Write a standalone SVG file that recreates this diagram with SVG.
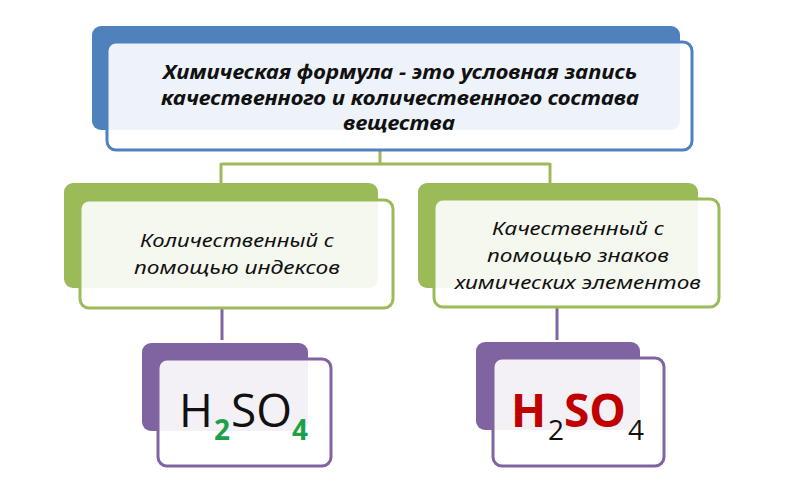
<svg xmlns="http://www.w3.org/2000/svg" width="802" height="491" viewBox="0 0 802 491">
<style>
.bg{fill:#fff}
.blue{fill:#4f81bd}
.green{fill:#9bbb59}
.purple{fill:#8064a2}
.front{fill:#fff;fill-opacity:0.9;stroke-width:3}
.fb{stroke:#4f81bd}
.fg{stroke:#9bbb59}
.fp{stroke:#8064a2}
.t{font-family:"Noto Sans","Liberation Sans",sans-serif;font-style:italic;fill:#111;text-anchor:middle}
.tb{font-weight:bold;font-size:19px}
.tn{font-size:19px}
.f{font-family:"Open Sans","Liberation Sans",sans-serif;font-size:46px}
.s{font-size:28px}
.k{fill:#111}
.g{fill:#1ea04a;font-weight:bold}
.r{fill:#c00000;font-weight:bold}
.con{fill:none;stroke-width:3}
</style>
<rect class="bg" width="802" height="491"/>
<g id="connectors">
<path class="con" stroke="#9bbb59" d="M380,150 V164 M221,164 H550 M221,163 V184 M550,163 V184"/>
<path class="con" stroke="#8064a2" d="M222,308 V340 M557,307 V340"/>
</g>
<g id="top">
<rect class="blue" x="92" y="26" width="588" height="104" rx="9"/>
<rect class="front fb" x="107" y="42" width="585" height="108" rx="9"/>
<text class="t tb" x="400" y="79" textLength="474" lengthAdjust="spacingAndGlyphs">Химическая формула - это условная запись</text>
<text class="t tb" x="400" y="105" textLength="478" lengthAdjust="spacingAndGlyphs">качественного и количественного состава</text>
<text class="t tb" x="399" y="130" textLength="112" lengthAdjust="spacingAndGlyphs">вещества</text>
</g>
<g id="left">
<rect class="green" x="64" y="183" width="314" height="105" rx="9"/>
<rect class="front fg" x="80" y="200" width="313" height="108" rx="9"/>
<text class="t tn" x="237" y="247" textLength="194" lengthAdjust="spacingAndGlyphs">Количественный с</text>
<text class="t tn" x="237" y="274" textLength="206" lengthAdjust="spacingAndGlyphs">помощью индексов</text>
</g>
<g id="right">
<rect class="green" x="418" y="183" width="280" height="105" rx="9"/>
<rect class="front fg" x="434" y="199" width="285" height="108" rx="9"/>
<text class="t tn" x="578" y="235" textLength="172" lengthAdjust="spacingAndGlyphs">Качественный с</text>
<text class="t tn" x="578" y="262" textLength="182" lengthAdjust="spacingAndGlyphs">помощью знаков</text>
<text class="t tn" x="578" y="289" textLength="246" lengthAdjust="spacingAndGlyphs">химических элементов</text>
</g>
<g id="formula-left">
<rect class="purple" x="142" y="343" width="166" height="88" rx="9"/>
<rect class="front fp" x="158" y="359" width="173" height="107" rx="9"/>
<text class="f"><tspan class="k" x="179" y="427">H</tspan><tspan class="s g" x="214" y="440">2</tspan><tspan class="k" x="231" y="427">SO</tspan><tspan class="s g" x="292" y="440">4</tspan></text>
</g>
<g id="formula-right">
<rect class="purple" x="476" y="342" width="164" height="88" rx="9"/>
<rect class="front fp" x="493" y="358" width="171" height="108" rx="9"/>
<text class="f"><tspan class="r" x="511" y="427">H</tspan><tspan class="s k" x="548" y="440">2</tspan><tspan class="r" x="564" y="427">SO</tspan><tspan class="s k" x="628" y="440">4</tspan></text>
</g>
</svg>
